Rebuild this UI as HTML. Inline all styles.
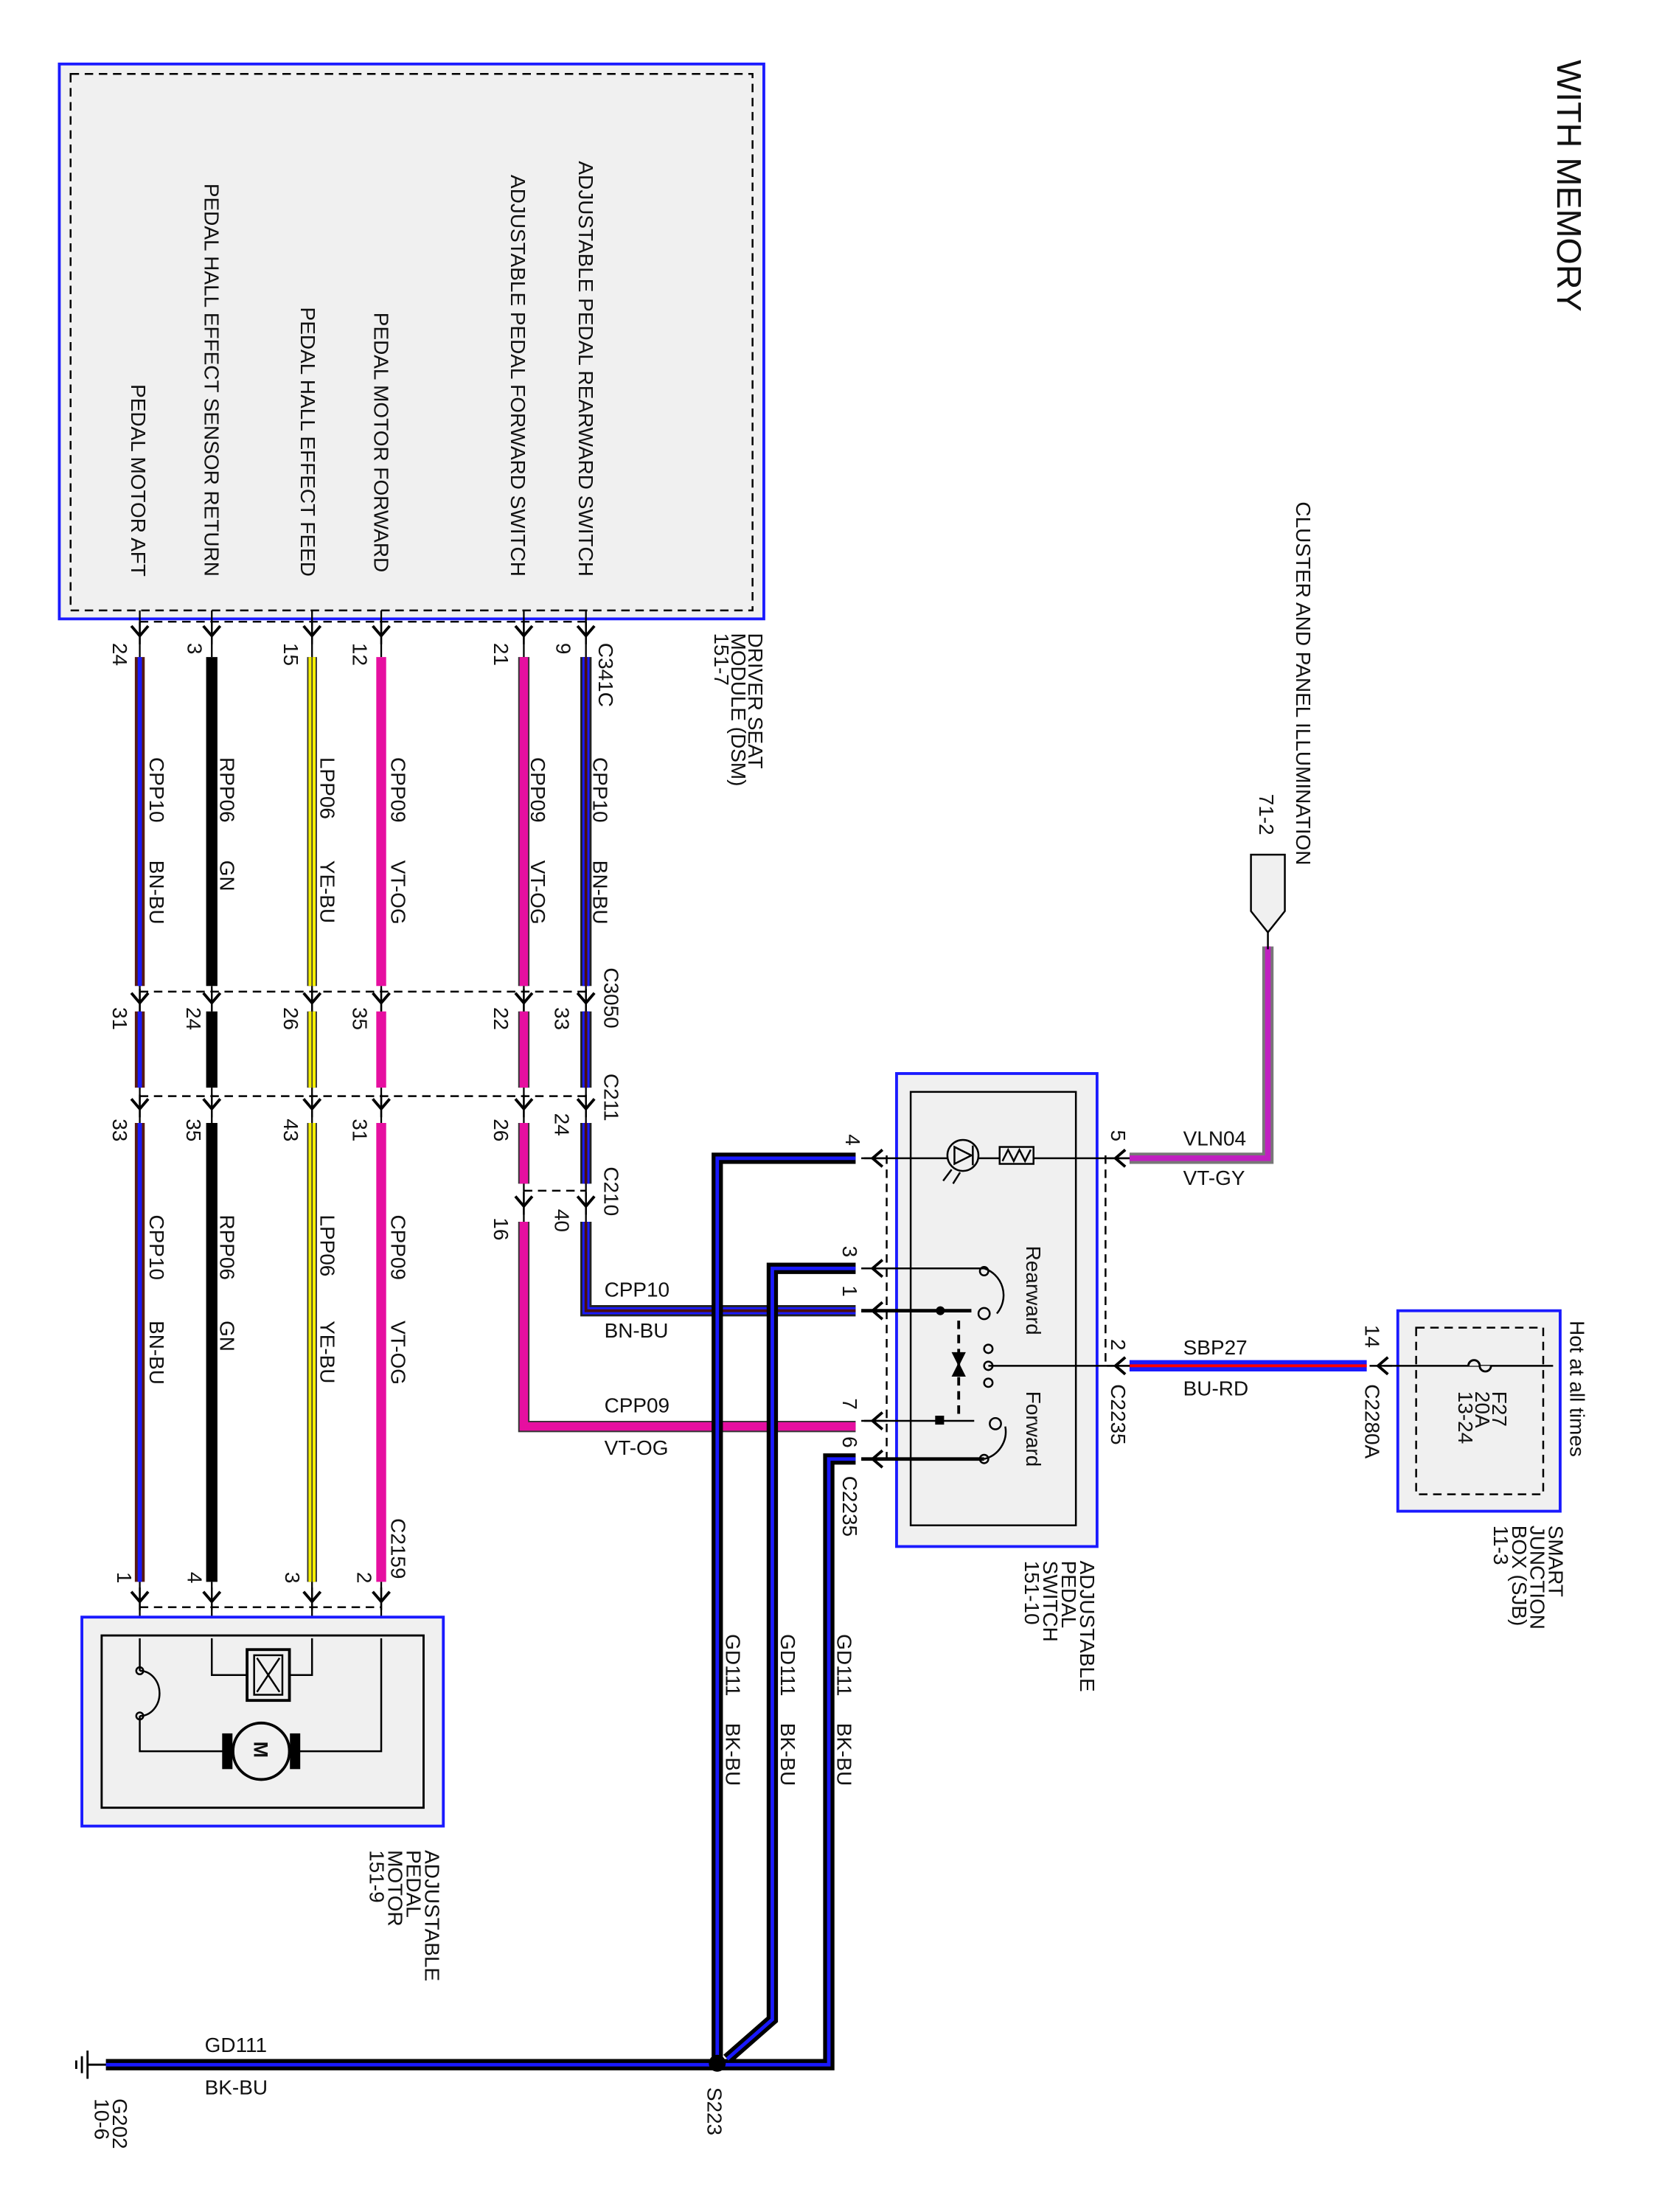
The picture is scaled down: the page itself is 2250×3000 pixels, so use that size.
<!DOCTYPE html>
<html><head><meta charset="utf-8"><style>
html,body{margin:0;padding:0;background:#fff;}
svg{display:block;}
text{font-family:"Liberation Sans",sans-serif;fill:#111;}
</style></head><body>
<svg width="2250" height="3000" viewBox="0 0 1175 1566" xmlns="http://www.w3.org/2000/svg">
<defs>
<g id="pin"><path d="M-6,-5 L0,2 L6,-5" fill="none" stroke="#000" stroke-width="2"/><line x1="0" y1="-8" x2="0" y2="8" stroke="#000" stroke-width="1.3"/></g>
<g id="pinL"><path d="M5,-6 L-2,0 L5,6" fill="none" stroke="#000" stroke-width="2"/><line x1="-8" y1="0" x2="8" y2="0" stroke="#000" stroke-width="1.3"/></g>
</defs>
<g font-size="14.6">
<!-- DSM -->
<rect x="42" y="45" width="499" height="393" fill="#f0f0f0" stroke="#1a1aff" stroke-width="2"/>
<rect x="50" y="52" width="483" height="380" fill="none" stroke="#000" stroke-width="1.3" stroke-dasharray="6,4"/>
<g text-anchor="end">
<text transform="translate(410,408) rotate(90)">ADJUSTABLE PEDAL REARWARD SWITCH</text>
<text transform="translate(362,408) rotate(90)">ADJUSTABLE PEDAL FORWARD SWITCH</text>
<text transform="translate(265,405) rotate(90)">PEDAL MOTOR FORWARD</text>
<text transform="translate(213,408) rotate(90)">PEDAL HALL EFFECT FEED</text>
<text transform="translate(145,408) rotate(90)">PEDAL HALL EFFECT SENSOR RETURN</text>
<text transform="translate(93,408) rotate(90)">PEDAL MOTOR AFT</text>
</g>
<text transform="translate(1103,42) rotate(90)" font-size="24.4">WITH MEMORY</text>
<text transform="translate(918,355) rotate(90)">CLUSTER AND PANEL ILLUMINATION</text>
<text transform="translate(892,562) rotate(90)">71-2</text>
<text transform="translate(530,448) rotate(90)">DRIVER SEAT</text>
<text transform="translate(518,448) rotate(90)">MODULE (DSM)</text>
<text transform="translate(506,448) rotate(90)">151-7</text>

<g stroke="#000" stroke-width="1.3" stroke-dasharray="6,4" fill="none">
<line x1="99" y1="440" x2="415" y2="440"/>
<line x1="99" y1="702" x2="415" y2="702"/>
<line x1="99" y1="776" x2="415" y2="776"/>
<line x1="371" y1="843" x2="415" y2="843"/>
<line x1="99" y1="1138" x2="270" y2="1138"/>
<line x1="628" y1="818" x2="628" y2="1036"/>
<line x1="783" y1="818" x2="783" y2="968"/>
</g>

<g fill="none" stroke-linejoin="miter">
<g><path d="M415,465 V698 M415,716 V770 M415,795 V838 M415,865 V928 H606" stroke="#222" stroke-width="8"/>
<path d="M415,465 V698 M415,716 V770 M415,795 V838 M415,865 V928 H606" stroke="#1a1aff" stroke-width="5"/>
<path d="M415,465 V698 M415,716 V770 M415,795 V838 M415,865 V928 H606" stroke="#4a1010" stroke-width="2"/></g>
<g><path d="M371,465 V698 M371,716 V770 M371,795 V838 M371,865 V1010 H606" stroke="#333" stroke-width="8"/>
<path d="M371,465 V698 M371,716 V770 M371,795 V838 M371,865 V1010 H606" stroke="#e60fa0" stroke-width="6"/></g>
<g><path d="M270,465 V698 M270,716 V770 M270,795 V1120" stroke="#e60fa0" stroke-width="7"/></g>
<g><path d="M221,465 V698 M221,716 V770 M221,795 V1120" stroke="#333" stroke-width="7"/>
<path d="M221,465 V698 M221,716 V770 M221,795 V1120" stroke="#f5f000" stroke-width="5"/>
<path d="M221,465 V698 M221,716 V770 M221,795 V1120" stroke="#333" stroke-width="0.8"/></g>
<path d="M150,465 V698 M150,716 V770 M150,795 V1120" stroke="#000" stroke-width="8"/>
<g><path d="M99,465 V698 M99,716 V770 M99,795 V1120" stroke="#5a1a10" stroke-width="7"/>
<path d="M99,465 V698 M99,716 V770 M99,795 V1120" stroke="#1a1aff" stroke-width="3"/></g>
<path d="M800,820 H898 V670" stroke="#777" stroke-width="8"/>
<path d="M800,820 H898 V670" stroke="#c020c0" stroke-width="4"/>
<path d="M800,967 H968" stroke="#1a1aff" stroke-width="8"/>
<path d="M800,967 H968" stroke="#ff0000" stroke-width="2"/>
<g><path d="M606,820 H508 V1460 M606,898 H547 V1430 L515,1458 M606,1033 H587 V1462 H510 M508,1462 H75" stroke="#000" stroke-width="8"/>
<path d="M606,820 H508 V1460 M606,898 H547 V1430 L515,1458 M606,1033 H587 V1462 H510 M508,1462 H75" stroke="#1a1aff" stroke-width="2.5"/></g>
</g>
<circle cx="508" cy="1461" r="6" fill="#000"/>
<g stroke="#000" stroke-width="1.5"><line x1="75" y1="1462" x2="62" y2="1462"/><line x1="62" y1="1452" x2="62" y2="1472"/><line x1="58" y1="1456" x2="58" y2="1468"/><line x1="54" y1="1459" x2="54" y2="1465"/></g>

<g stroke="#000" stroke-width="1.2">
<line x1="415" y1="432" x2="415" y2="465"/><line x1="371" y1="432" x2="371" y2="465"/><line x1="270" y1="432" x2="270" y2="465"/><line x1="221" y1="432" x2="221" y2="465"/><line x1="150" y1="432" x2="150" y2="465"/><line x1="99" y1="432" x2="99" y2="465"/>
<line x1="415" y1="698" x2="415" y2="716"/><line x1="371" y1="698" x2="371" y2="716"/><line x1="270" y1="698" x2="270" y2="716"/><line x1="221" y1="698" x2="221" y2="716"/><line x1="150" y1="698" x2="150" y2="716"/><line x1="99" y1="698" x2="99" y2="716"/>
<line x1="415" y1="770" x2="415" y2="795"/><line x1="371" y1="770" x2="371" y2="795"/><line x1="270" y1="770" x2="270" y2="795"/><line x1="221" y1="770" x2="221" y2="795"/><line x1="150" y1="770" x2="150" y2="795"/><line x1="99" y1="770" x2="99" y2="795"/>
<line x1="415" y1="838" x2="415" y2="865"/><line x1="371" y1="838" x2="371" y2="865"/>
<line x1="270" y1="1120" x2="270" y2="1160"/><line x1="221" y1="1120" x2="221" y2="1160"/><line x1="150" y1="1120" x2="150" y2="1160"/><line x1="99" y1="1120" x2="99" y2="1160"/>
</g>
<g>
<use href="#pin" x="415" y="448"/><use href="#pin" x="371" y="448"/><use href="#pin" x="270" y="448"/><use href="#pin" x="221" y="448"/><use href="#pin" x="150" y="448"/><use href="#pin" x="99" y="448"/>
<use href="#pin" x="415" y="708"/><use href="#pin" x="371" y="708"/><use href="#pin" x="270" y="708"/><use href="#pin" x="221" y="708"/><use href="#pin" x="150" y="708"/><use href="#pin" x="99" y="708"/>
<use href="#pin" x="415" y="783"/><use href="#pin" x="371" y="783"/><use href="#pin" x="270" y="783"/><use href="#pin" x="221" y="783"/><use href="#pin" x="150" y="783"/><use href="#pin" x="99" y="783"/>
<use href="#pin" x="415" y="852"/><use href="#pin" x="371" y="852"/>
<use href="#pin" x="270" y="1132"/><use href="#pin" x="221" y="1132"/><use href="#pin" x="150" y="1132"/><use href="#pin" x="99" y="1132"/>
</g>

<text transform="translate(424,455) rotate(90)">C341C</text>
<text transform="translate(80,455) rotate(90)">24</text>
<text transform="translate(133,455) rotate(90)">3</text>
<text transform="translate(201,455) rotate(90)">15</text>
<text transform="translate(250,455) rotate(90)">12</text>
<text transform="translate(350,455) rotate(90)">21</text>
<text transform="translate(394,455) rotate(90)">9</text>
<g>
<text transform="translate(106,536) rotate(90)">CPP10</text><text transform="translate(106,609) rotate(90)">BN-BU</text>
<text transform="translate(156,536) rotate(90)">RPP06</text><text transform="translate(156,609) rotate(90)">GN</text>
<text transform="translate(227,536) rotate(90)">LPP06</text><text transform="translate(227,609) rotate(90)">YE-BU</text>
<text transform="translate(277,536) rotate(90)">CPP09</text><text transform="translate(277,609) rotate(90)">VT-OG</text>
<text transform="translate(376,536) rotate(90)">CPP09</text><text transform="translate(376,609) rotate(90)">VT-OG</text>
<text transform="translate(420,536) rotate(90)">CPP10</text><text transform="translate(420,609) rotate(90)">BN-BU</text>
</g>
<text transform="translate(428,685) rotate(90)">C3050</text>
<text transform="translate(80,713) rotate(90)">31</text><text transform="translate(132,713) rotate(90)">24</text><text transform="translate(201,713) rotate(90)">26</text><text transform="translate(250,713) rotate(90)">35</text><text transform="translate(350,713) rotate(90)">22</text><text transform="translate(393,713) rotate(90)">33</text>
<text transform="translate(428,760) rotate(90)">C211</text>
<text transform="translate(80,792) rotate(90)">33</text><text transform="translate(132,792) rotate(90)">35</text><text transform="translate(201,792) rotate(90)">43</text><text transform="translate(250,792) rotate(90)">31</text><text transform="translate(350,792) rotate(90)">26</text><text transform="translate(393,788) rotate(90)">24</text>
<text transform="translate(428,826) rotate(90)">C210</text>
<text transform="translate(350,862) rotate(90)">16</text><text transform="translate(393,856) rotate(90)">40</text>
<g>
<text transform="translate(106,860) rotate(90)">CPP10</text><text transform="translate(106,935) rotate(90)">BN-BU</text>
<text transform="translate(156,860) rotate(90)">RPP06</text><text transform="translate(156,935) rotate(90)">GN</text>
<text transform="translate(227,860) rotate(90)">LPP06</text><text transform="translate(227,935) rotate(90)">YE-BU</text>
<text transform="translate(277,860) rotate(90)">CPP09</text><text transform="translate(277,935) rotate(90)">VT-OG</text>
</g>
<text transform="translate(277,1075) rotate(90)">C2159</text>
<text transform="translate(83,1113) rotate(90)">1</text><text transform="translate(133,1113) rotate(90)">4</text><text transform="translate(202,1113) rotate(90)">3</text><text transform="translate(253,1113) rotate(90)">2</text>

<!-- Motor -->
<rect x="58" y="1145" width="256" height="148" fill="#f0f0f0" stroke="#1a1aff" stroke-width="2"/>
<rect x="72" y="1158" width="228" height="122" fill="none" stroke="#000" stroke-width="1.5"/>
<g stroke="#000" stroke-width="1.3" fill="none">
<path d="M99,1160 V1183 M99,1215 V1240 H160 M270,1160 V1240 H210"/>
<path d="M99,1183 A14,16 0 0 1 99,1215"/>
<circle cx="99" cy="1183" r="2.5"/><circle cx="99" cy="1215" r="2.5"/>
<path d="M150,1160 V1186 H175 M221,1160 V1186 H205"/>
<rect x="175" y="1168" width="30" height="36" stroke-width="2"/>
<rect x="180" y="1172" width="20" height="28"/>
<path d="M182,1174 L198,1198 M198,1174 L182,1198"/>
<rect x="158" y="1228" width="6" height="24" fill="#000"/>
<rect x="206" y="1228" width="6" height="24" fill="#000"/>
<circle cx="185" cy="1240" r="20" fill="#f0f0f0" stroke-width="2"/>
</g>
<text x="178" y="1245" font-size="14" font-weight="bold" transform="rotate(90,185,1240)">M</text>
<text transform="translate(301,1310) rotate(90)">ADJUSTABLE</text>
<text transform="translate(288,1310) rotate(90)">PEDAL</text>
<text transform="translate(275,1310) rotate(90)">MOTOR</text>
<text transform="translate(262,1310) rotate(90)">151-9</text>

<!-- Switch -->
<rect x="635" y="760" width="142" height="335" fill="#f0f0f0" stroke="#1a1aff" stroke-width="2"/>
<rect x="645" y="773" width="117" height="307" fill="none" stroke="#000" stroke-width="1.3"/>
<g stroke="#000" stroke-width="1.3" fill="none">
<line x1="610" y1="820" x2="800" y2="820"/>
<circle cx="682" cy="818" r="11" fill="#f0f0f0"/>
<path d="M676,812 L688,818 L676,824 Z M689,811 V825"/>
<path d="M674,828 L668,836 M680,830 L675,838"/>
<rect x="708" y="812" width="24" height="12" fill="#f0f0f0"/>
<path d="M710,822 L714,814 L718,822 L722,814 L726,822 L730,814"/>
<line x1="610" y1="898" x2="697" y2="898"/>
<circle cx="697" cy="900" r="3"/>
<line x1="610" y1="928" x2="688" y2="928" stroke-width="2.5"/>
<circle cx="666" cy="928" r="2.5" fill="#000"/>
<circle cx="697" cy="930" r="4"/>
<path d="M697,898 A20,20 0 0 1 706,930"/>
<line x1="679" y1="935" x2="679" y2="1005" stroke-dasharray="6,4" stroke-width="2"/>
<path d="M675,958 L683,958 L679,966 Z M675,974 L683,974 L679,966 Z" fill="#000"/>
<circle cx="700" cy="955" r="3"/><circle cx="700" cy="967" r="3"/><circle cx="700" cy="979" r="3"/>
<line x1="700" y1="967" x2="800" y2="967"/>
<line x1="610" y1="1006" x2="690" y2="1006"/>
<rect x="663" y="1003" width="5" height="5" fill="#000"/>
<circle cx="705" cy="1008" r="4"/>
<line x1="610" y1="1033" x2="697" y2="1033" stroke-width="2.5"/>
<circle cx="697" cy="1033" r="3"/>
<path d="M712,1010 A20,20 0 0 1 697,1033"/>
</g>
<text transform="translate(727,882) rotate(90)">Rearward</text>
<text transform="translate(727,985) rotate(90)">Forward</text>
<g>
<use href="#pinL" x="620" y="820"/><use href="#pinL" x="620" y="898"/><use href="#pinL" x="620" y="928"/><use href="#pinL" x="620" y="1006"/><use href="#pinL" x="620" y="1033"/>
<use href="#pinL" x="792" y="820"/><use href="#pinL" x="792" y="967"/><use href="#pinL" x="978" y="967"/>
</g>
<text transform="translate(599,803) rotate(90)">4</text>
<text transform="translate(597,882) rotate(90)">3</text>
<text transform="translate(597,910) rotate(90)">1</text>
<text transform="translate(597,990) rotate(90)">7</text>
<text transform="translate(597,1017) rotate(90)">6</text>
<text transform="translate(597,1045) rotate(90)">C2235</text>
<text transform="translate(765,1105) rotate(90)">ADJUSTABLE</text>
<text transform="translate(752,1105) rotate(90)">PEDAL</text>
<text transform="translate(739,1105) rotate(90)">SWITCH</text>
<text transform="translate(726,1105) rotate(90)">151-10</text>
<text transform="translate(787,800) rotate(90)">5</text>
<text transform="translate(787,948) rotate(90)">2</text>
<text transform="translate(787,980) rotate(90)">C2235</text>
<text x="838" y="811">VLN04</text><text x="838" y="839">VT-GY</text>
<text x="838" y="959">SBP27</text><text x="838" y="988">BU-RD</text>
<text x="428" y="918">CPP10</text><text x="428" y="947">BN-BU</text>
<text x="428" y="1000">CPP09</text><text x="428" y="1030">VT-OG</text>
<text x="145" y="1453">GD111</text><text x="145" y="1483">BK-BU</text>
<text transform="translate(514,1157) rotate(90)">GD111</text><text transform="translate(514,1220) rotate(90)">BK-BU</text>
<text transform="translate(553,1157) rotate(90)">GD111</text><text transform="translate(553,1220) rotate(90)">BK-BU</text>
<text transform="translate(593,1157) rotate(90)">GD111</text><text transform="translate(593,1220) rotate(90)">BK-BU</text>
<text transform="translate(501,1478) rotate(90)">S223</text>
<text transform="translate(80,1486) rotate(90)">G202</text>
<text transform="translate(67,1486) rotate(90)">10-6</text>

<path d="M886,605 H910 V645 L898,660 L886,645 Z" fill="#f0f0f0" stroke="#000" stroke-width="1.3"/>
<line x1="898" y1="660" x2="898" y2="672" stroke="#000" stroke-width="1.3"/>

<rect x="990" y="928" width="115" height="142" fill="#f0f0f0" stroke="#1a1aff" stroke-width="2"/>
<rect x="1003" y="940" width="90" height="118" fill="none" stroke="#000" stroke-width="1.3" stroke-dasharray="6,4"/>
<line x1="980" y1="967" x2="1100" y2="967" stroke="#000" stroke-width="1.3"/>
<path d="M1040,967 a4,4 0 0 1 8,0 a4,4 0 0 0 8,0" fill="#f0f0f0" stroke="#000" stroke-width="1.5"/>
<text transform="translate(1112,935) rotate(90)">Hot at all times</text>
<text transform="translate(1057,985) rotate(90)">F27</text>
<text transform="translate(1045,985) rotate(90)">20A</text>
<text transform="translate(1033,985) rotate(90)">13-24</text>
<text transform="translate(967,938) rotate(90)">14</text>
<text transform="translate(967,980) rotate(90)">C2280A</text>
<text transform="translate(1097,1080) rotate(90)">SMART</text>
<text transform="translate(1084,1080) rotate(90)">JUNCTION</text>
<text transform="translate(1071,1080) rotate(90)">BOX (SJB)</text>
<text transform="translate(1058,1080) rotate(90)">11-3</text>
</g>
</svg>
</body></html>
